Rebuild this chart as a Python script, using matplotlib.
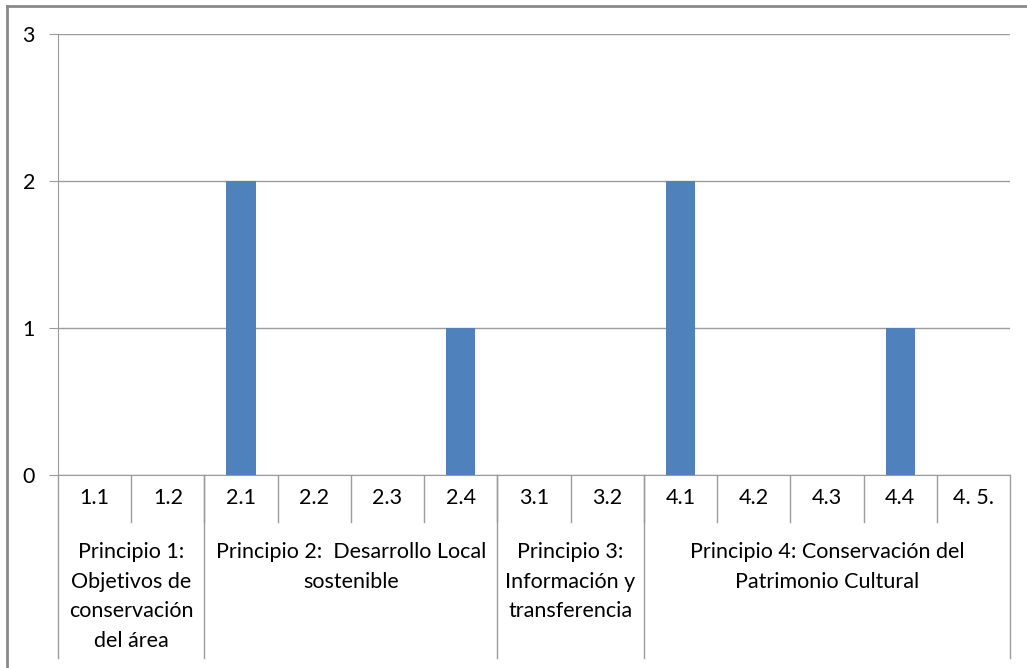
import numpy as np
from matplotlib import pyplot as plt
from matplotlib.lines import Line2D
from matplotlib import transforms

# data
subcategories = ['1.1', '1.2', '2.1', '2.2', '2.3', '2.4', '3.1', '3.2',
                 '4.1', '4.2', '4.3', '4.4', '4. 5.']
values = [0, 0, 2, 0, 0, 1, 0, 0, 2, 0, 0, 1, 0]
groups = ['Principio 1:\nObjetivos de\nconservación\ndel área',
          'Principio 2:  Desarrollo Local\nsostenible',
          'Principio 3:\nInformación y\ntransferencia',
          'Principio 4: Conservación del\nPatrimonio Cultural']
group_sizes = [2, 4, 2, 5]
yticks = [0, 1, 2, 3]

W, H = 1027, 668
plt.rcParams['font.family'] = ['Lato', 'DejaVu Sans']
fig = plt.figure(figsize=(W / 100, H / 100), dpi=100)

# plot area in pixels
left, right, top, bottom = 58, 1010, 34, 475
ax = fig.add_axes([left / W, (H - bottom) / H, (right - left) / W, (bottom - top) / H])

grid_col = '#9c9c9c'
fs = 15.5
x = np.arange(len(subcategories))
ax.bar(x, values, width=0.4, color='#4F81BD', zorder=3)
ax.set_xlim(-0.5, len(subcategories) - 0.5)
ax.set_ylim(0, 3)
ax.set_yticks(yticks)
ax.set_yticklabels([str(t) for t in yticks], fontsize=fs)
ax.yaxis.grid(True, color=grid_col, linewidth=1)
ax.set_axisbelow(True)
ax.tick_params(axis='y', length=6.5, color=grid_col, pad=10)
ax.set_xticks([])
for s in ['top', 'right']:
    ax.spines[s].set_visible(False)
ax.spines['left'].set_color(grid_col)
ax.spines['bottom'].set_color(grid_col)

# multi-level category axis
trans = transforms.blended_transform_factory(ax.transData, ax.transAxes)
span = bottom - top
def yfrac(py):
    return (bottom - py) / span

row1_bottom = 522
row2_bottom = 658
for i, lab in enumerate(subcategories):
    ax.text(i, yfrac(498), lab, transform=trans, ha='center', va='center',
            fontsize=fs, clip_on=False)
for k in range(1, len(subcategories)):
    ax.add_line(Line2D([k - 0.5, k - 0.5], [yfrac(bottom), yfrac(row1_bottom)],
                       transform=trans, color=grid_col, linewidth=1, clip_on=False))

bounds = np.concatenate([[0], np.cumsum(group_sizes)]) - 0.5
for b in bounds:
    ax.add_line(Line2D([b, b], [yfrac(bottom), yfrac(row2_bottom)],
                       transform=trans, color=grid_col, linewidth=1, clip_on=False))
for g, lab in enumerate(groups):
    xc = (bounds[g] + bounds[g + 1]) / 2
    ax.text(xc, yfrac(542), lab, transform=trans, ha='center', va='top',
            fontsize=fs, linespacing=1.6, clip_on=False)

# outer chart border (top and left only visible)
border = '#8a8a8a'
fig.add_artist(Line2D([7 / W, 1], [(H - 6) / H, (H - 6) / H], color=border, linewidth=2))
fig.add_artist(Line2D([7 / W, 7 / W], [0, (H - 6) / H], color=border, linewidth=2))

fig.savefig('out.png', dpi=100)
